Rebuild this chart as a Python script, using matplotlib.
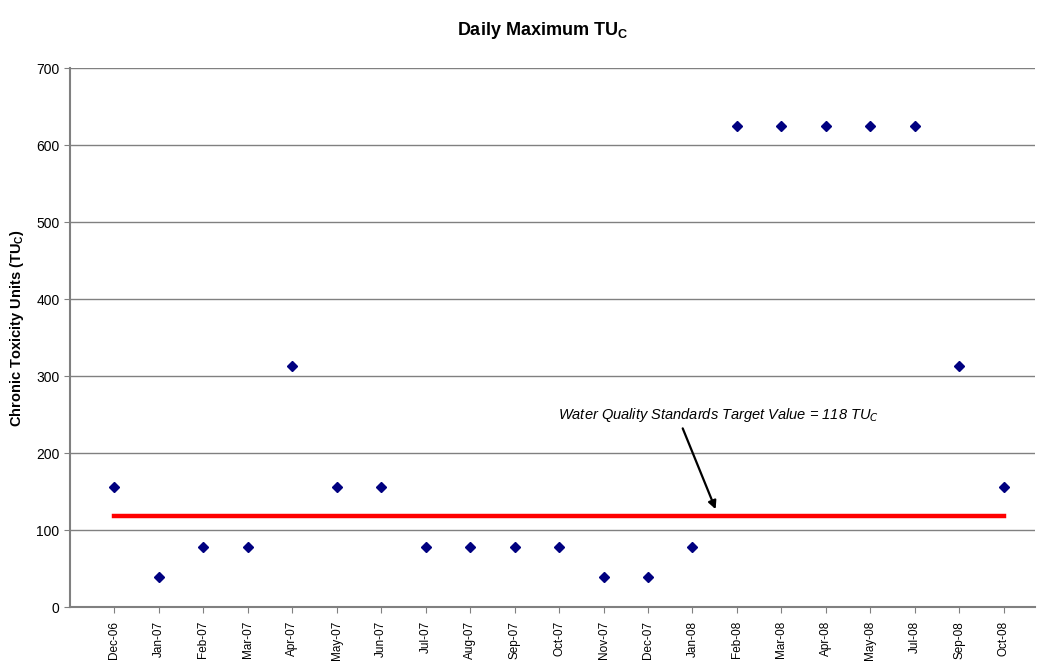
import matplotlib
matplotlib.use('Agg')
import matplotlib.pyplot as plt

plt.rcParams['font.family'] = ['Liberation Sans', 'DejaVu Sans']

# meses muestreados (no hay Jun-08 ni Aug-08)
meses = ['Dec-06', 'Jan-07', 'Feb-07', 'Mar-07', 'Apr-07', 'May-07', 'Jun-07',
         'Jul-07', 'Aug-07', 'Sep-07', 'Oct-07', 'Nov-07', 'Dec-07', 'Jan-08',
         'Feb-08', 'Mar-08', 'Apr-08', 'May-08', 'Jul-08', 'Sep-08', 'Oct-08']
tuc = [156.25, 39.06, 78.125, 78.125, 312.5, 156.25, 156.25, 78.125, 78.125,
       78.125, 78.125, 39.06, 39.06, 78.125, 625, 625, 625, 625, 625, 312.5, 156.25]
objetivo = 118

x = list(range(len(meses)))

fig = plt.figure(figsize=(10.38, 6.68), dpi=100)
ax = fig.add_axes([0.0674, 0.0913, 0.9296, 0.8069])

ax.yaxis.grid(True, color='#808080', linewidth=1)
ax.set_axisbelow(True)

# linea del valor objetivo
ax.plot([x[0], x[-1]], [objetivo, objetivo], color='#ff0000', linewidth=3.2, zorder=2)
ax.plot(x, tuc, linestyle='none', marker='D', markersize=5.5, color='#000080', zorder=3)

ax.set_xlim(-1, len(meses) - 0.3)
ax.set_ylim(0, 700)
ax.set_yticks(range(0, 701, 100))
ax.set_xticks(x)
ax.set_xticklabels(meses, rotation=90, fontsize=8.5)
ax.tick_params(axis='y', labelsize=10, length=4, color='#808080')
ax.tick_params(axis='x', length=4, color='#808080', pad=6)

for s in ['top', 'right']:
    ax.spines[s].set_visible(False)
for s in ['left', 'bottom']:
    ax.spines[s].set_color('#808080')
    ax.spines[s].set_linewidth(1.5)

ax.set_ylabel('Chronic Toxicity Units (TU$_\\mathregular{C}$)', fontsize=10.5,
              fontweight='bold')
ax.yaxis.set_label_coords(-0.046, 0.518)
fig.text(0.523, 0.955, 'Daily Maximum TU$_\\mathregular{C}$', ha='center', va='center',
         fontsize=13, fontweight='bold')

ax.text(13.59, 249, 'Water Quality Standards Target Value = 118 TU$_\\mathregular{\\mathit{C}}$',
        ha='center', va='center', fontsize=10.5, fontstyle='italic')
ax.annotate('', xy=(13.52, 127), xytext=(12.78, 232),
            arrowprops=dict(arrowstyle='-|>', color='black', lw=1.6,
                            shrinkA=0, shrinkB=0, mutation_scale=12))

fig.savefig('out.png', dpi=100)
